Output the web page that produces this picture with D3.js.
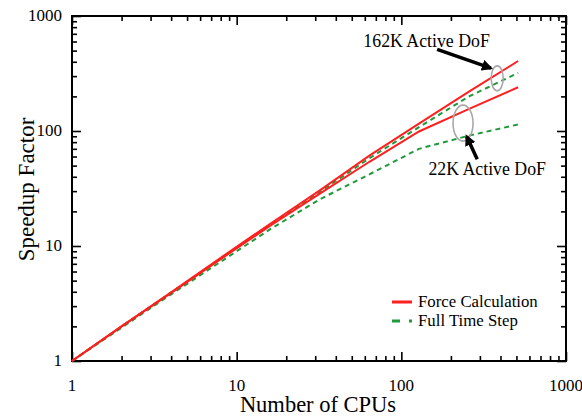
<!DOCTYPE html>
<html>
<head>
<meta charset="utf-8">
<script src="https://cdn.jsdelivr.net/npm/d3@7"></script>
<style>
  html, body { margin: 0; padding: 0; background: #fff; }
  svg { display: block; font-family: "Liberation Serif", "DejaVu Serif", serif; }
</style>
</head>
<body>
<div id="chart"></div>
<script>
// speedup vs CPU count, log-log
const cpus = [1, 2, 4, 8, 16, 32, 64, 128, 256, 512];
const force162 = [1, 2, 3.95, 7.9, 15.6, 30.5, 61, 116, 219, 406];
const force22 = [1, 2, 3.9, 7.7, 15, 28.5, 54, 99, 155, 240];
const full162 = [1, 2, 3.95, 7.8, 15.3, 29.5, 58, 108, 199, 320];
const full22 = [1, 1.95, 3.8, 7.3, 14, 25.5, 42, 70, 91, 114];

const majorTicks = [1, 10, 100, 1000];
const tickLabels = ['1', '10', '100', '1000'];

const W = 582, H = 418;
const margin = { top: 16, right: 16, bottom: 57, left: 72 };

const svg = d3.select('#chart').append('svg')
  .attr('width', W).attr('height', H);

const x = d3.scaleLog().domain([1, 1000]).range([margin.left, W - margin.right]);
const y = d3.scaleLog().domain([1, 1000]).range([H - margin.bottom, margin.top]);

// minor ticks 2..9 per decade
const minorTicks = [];
[1, 10, 100].forEach(d => { for (let k = 2; k <= 9; k++) minorTicks.push(d * k); });

function tickAxis(axisFn, scale, vals, size) {
  return axisFn(scale).tickValues(vals).tickSize(size).tickSizeOuter(0).tickFormat('');
}

const x0 = x.range()[0], x1 = x.range()[1], y0 = y.range()[0], y1 = y.range()[1];

// ticks, all pointing inward, on all four sides
const axes = [
  [d3.axisBottom, x, `translate(0,${y0})`],
  [d3.axisTop, x, `translate(0,${y1})`],
  [d3.axisLeft, y, `translate(${x0},0)`],
  [d3.axisRight, y, `translate(${x1},0)`]
];
axes.forEach(([fn, sc, tr]) => {
  const g1 = svg.append('g').attr('transform', tr).call(tickAxis(fn, sc, majorTicks, -9));
  const g2 = svg.append('g').attr('transform', tr).call(tickAxis(fn, sc, minorTicks, -5));
  [g1, g2].forEach(g => {
    g.select('.domain').remove();
    g.selectAll('.tick line').attr('stroke', '#000').attr('stroke-width', 1.6);
  });
});

// frame
svg.append('rect')
  .attr('x', x0).attr('y', y1)
  .attr('width', x1 - x0).attr('height', y0 - y1)
  .attr('fill', 'none').attr('stroke', '#000').attr('stroke-width', 2);

// tick labels
svg.append('g').selectAll('text').data(majorTicks).join('text')
  .attr('x', d => x(d)).attr('y', y0 + 30)
  .attr('text-anchor', 'middle').attr('font-size', 17)
  .text((d, i) => tickLabels[i]);

svg.append('g').selectAll('text').data(majorTicks).join('text')
  .attr('x', x0 - 10).attr('y', d => y(d) + 5)
  .attr('text-anchor', 'end').attr('font-size', 17)
  .text((d, i) => tickLabels[i]);

// axis titles
svg.append('text')
  .attr('x', (x0 + x1) / 2 - 1).attr('y', 412)
  .attr('text-anchor', 'middle').attr('font-size', 22.5)
  .text('Number of CPUs');

svg.append('text')
  .attr('transform', `translate(34,${(y0 + y1) / 2 + 1}) rotate(-90)`)
  .attr('text-anchor', 'middle').attr('font-size', 23)
  .text('Speedup Factor');

// series
const RED = '#ff1f1f', GREEN = '#1f9a3a';
const line = d3.line().x(d => x(d[0])).y(d => y(d[1]));
const series = [
  { vals: full22, color: GREEN, dash: '5,4' },
  { vals: full162, color: GREEN, dash: '5,4' },
  { vals: force22, color: RED, dash: null },
  { vals: force162, color: RED, dash: null }
];
series.forEach(s => {
  svg.append('path')
    .datum(cpus.map((c, i) => [c, s.vals[i]]))
    .attr('fill', 'none')
    .attr('stroke', s.color)
    .attr('stroke-width', 2)
    .attr('stroke-dasharray', s.dash)
    .attr('d', line);
});

// annotations: ellipses, arrows, labels
svg.append('defs').append('marker')
  .attr('id', 'head').attr('viewBox', '0 0 10 10')
  .attr('refX', 8).attr('refY', 5)
  .attr('markerWidth', 3.2).attr('markerHeight', 3.2)
  .attr('orient', 'auto')
  .append('path').attr('d', 'M0,0 L10,5 L0,10 Z').attr('fill', '#000');

const ellipses = [
  { cx: 382, cy: 287, rx: 6, ry: 12.5 },
  { cx: 237, cy: 117, rx: 10, ry: 18 }
];
ellipses.forEach(e => {
  svg.append('ellipse')
    .attr('cx', x(e.cx)).attr('cy', y(e.cy))
    .attr('rx', e.rx).attr('ry', e.ry)
    .attr('fill', 'none').attr('stroke', '#a8a8a8').attr('stroke-width', 1.6);
});

const arrows = [
  { from: [165, 513], to: [350, 352] },
  { from: [289, 56.7], to: [249, 90] }
];
arrows.forEach(a => {
  svg.append('line')
    .attr('x1', x(a.from[0])).attr('y1', y(a.from[1]))
    .attr('x2', x(a.to[0])).attr('y2', y(a.to[1]))
    .attr('stroke', '#000').attr('stroke-width', 3.5)
    .attr('marker-end', 'url(#head)');
});

const notes = [
  { text: '162K Active DoF', at: [58.8, 537] },
  { text: '22K Active DoF', at: [146, 41.4] }
];
notes.forEach(n => {
  svg.append('text')
    .attr('x', x(n.at[0])).attr('y', y(n.at[1]))
    .attr('font-size', 17.8)
    .text(n.text);
});

// legend
const legend = [
  { label: 'Force Calculation', color: RED, dash: null },
  { label: 'Full Time Step', color: GREEN, dash: '8,9' }
];
const lg = svg.append('g').attr('transform', 'translate(392,302)');
legend.forEach((d, i) => {
  const row = lg.append('g').attr('transform', `translate(0,${i * 19})`);
  row.append('line')
    .attr('x1', 0).attr('x2', 20).attr('y1', 0).attr('y2', 0)
    .attr('stroke', d.color).attr('stroke-width', 3)
    .attr('stroke-dasharray', d.dash);
  row.append('text')
    .attr('x', 26).attr('y', 5)
    .attr('font-size', 16.8)
    .text(d.label);
});
</script>
</body>
</html>
